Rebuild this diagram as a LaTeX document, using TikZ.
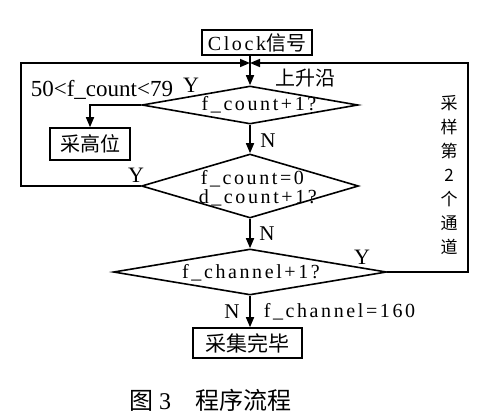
\documentclass[tikz,border=0pt]{standalone}
\usepackage{fontspec}
\setmainfont{Liberation Serif}
\newfontfamily\cjk{Noto Sans CJK SC}
\newfontfamily\codefont[LetterSpace=13]{Liberation Serif}
\usetikzlibrary{shapes.geometric,arrows.meta}
\begin{document}
\begin{tikzpicture}[x=1pt,y=-1pt, line width=1.6pt,
 box/.style={draw, rectangle, inner sep=0pt, line width=1.6pt},
 dia/.style={draw, diamond, inner sep=0pt, line width=1.6pt},
 arr/.style={-{Triangle[length=10pt,width=8pt]}},
 lbl/.style={inner sep=0pt, font=\fontsize{21}{23}\selectfont},
 code/.style={inner sep=0pt, font=\codefont\fontsize{20}{22}\selectfont},
 zh/.style={inner sep=0pt, font=\cjk\fontsize{20}{22}\selectfont}]
\useasboundingbox (0,0) rectangle (500,418);
% boxes
\node[box, minimum width=110pt, minimum height=25pt] (clk) at (257,42.5)
  {{\codefont\fontsize{20}{22}\selectfont Clock}{\cjk\fontsize{20}{22}\selectfont 信号}};
\node[box, zh, minimum width=80pt, minimum height=32pt] (gw) at (90,144) {采高位};
\node[box, zh, minimum width=109pt, minimum height=30pt, font=\cjk\fontsize{21}{22}\selectfont] (done) at (247.5,343) {采集完毕};
% diamonds
\node[dia, minimum width=216pt, minimum height=38pt] (d1) at (250,105) {};
\node[dia, minimum width=217pt, minimum height=64pt] (d2) at (250,186) {};
\node[dia, minimum width=273pt, minimum height=46pt] (d3) at (250,272) {};
% loop corners
\coordinate (tl) at (21,63);
\coordinate (tr) at (468,63);
\coordinate (tm) at (250,63);
% connectors
\draw[arr] (clk.south -| d1.north) -- (d1.north);
\draw[arr] (d1.south) -- (d2.north);
\draw[arr] (d2.south) -- (d3.north);
\draw[arr] (d3.south) -- (d3.south |- done.north);
\draw[arr] (d1.west) -| (gw.north);
\draw[arr] (d2.west) -| (tl) -- (tm);
\draw[arr] (d3.east) -| (tr) -- (tm);
% texts
\node[lbl, anchor=west, font=\fontsize{23}{25}\selectfont] (rng) at (30,90) {50<f\_count<79};
\node[lbl, font=\fontsize{22}{24}\selectfont] (y1) at (191,85) {Y};
\node[zh] (up) at (305,78) {上升沿};
\node[code] (t1) at (259,105) {f\_count+1?};
\node[lbl] (n1) at (268,141) {N};
\node[code, anchor=west] (t2a) at (200,179) {f\_count=0};
\node[code, anchor=west] (t2b) at (198,198) {d\_count+1?};
\node[lbl, font=\fontsize{22}{24}\selectfont] (y2) at (136,175) {Y};
\node[lbl] (n2) at (267,234) {N};
\node[lbl, font=\fontsize{22}{24}\selectfont] (y3) at (362,257) {Y};
\node[code] (t3) at (251,273) {f\_channel+1?};
\node[lbl] (n3) at (232,312) {N};
\node[code, anchor=west] (t4) at (263,312) {f\_channel=160};
\node[zh, align=center, font=\cjk\fontsize{17}{24}\selectfont] (side) at (449,175) {采\\样\\第\\2\\个\\通\\道};
\node[zh, font=\cjk\fontsize{24}{26}\selectfont] (cap) at (210,400) {图\hspace{6pt}{\rmfamily 3}\hspace{24pt}程序流程};
\end{tikzpicture}
\end{document}
